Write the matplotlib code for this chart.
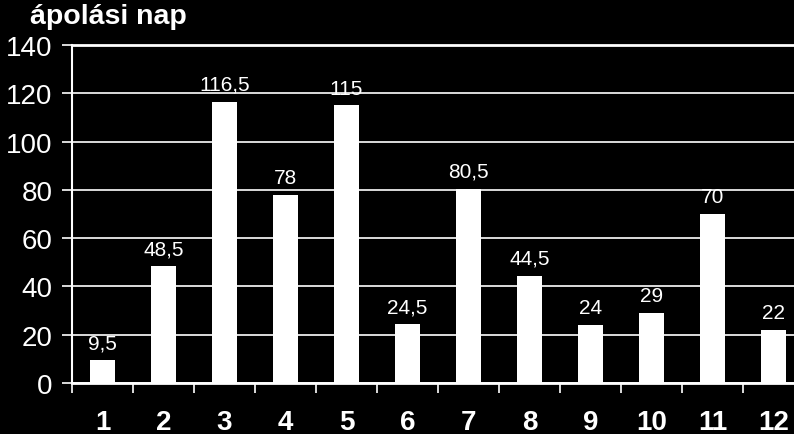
import matplotlib.pyplot as plt
from matplotlib.ticker import MultipleLocator

categories = ["1", "2", "3", "4", "5", "6", "7", "8", "9", "10", "11", "12"]
values = [9.5, 48.5, 116.5, 78, 115, 24.5, 80.5, 44.5, 24, 29, 70, 22]
value_labels = ["9,5", "48,5", "116,5", "78", "115", "24,5", "80,5", "44,5", "24", "29", "70", "22"]
title_text = "ápolási nap"

plt.rcParams["font.family"] = ["Liberation Sans", "DejaVu Sans"]

W, H = 794, 435
fig = plt.figure(figsize=(W / 100, H / 100), dpi=100, facecolor="black")
ax = fig.add_axes([72 / W, (H - 384) / H, 732 / W, 338 / H], facecolor="black")

x = list(range(1, len(categories) + 1))
ax.bar(x, values, width=0.4, color="white", zorder=3)

for xi, v, lab in zip(x, values, value_labels):
    ax.annotate(lab, (xi, v), xytext=(0, 8.5), textcoords="offset points",
                ha="center", va="baseline", color="white", fontsize=15, zorder=4)

ax.set_xlim(0.5, len(categories) + 0.5)
ax.set_ylim(0, 140)
ax.yaxis.set_major_locator(MultipleLocator(20))
ax.grid(axis="y", color="white", linewidth=1.2, zorder=1)

ax.set_xticks(x)
ax.set_xticklabels(categories, fontsize=20, fontweight="bold", color="white")
ax.set_xticks([i + 0.5 for i in range(0, len(categories) + 1)], minor=True)
ax.tick_params(axis="x", which="major", length=0, pad=19)
ax.tick_params(axis="x", which="minor", length=7, width=1.2, color="white", direction="out")
ax.tick_params(axis="y", length=7, width=1.2, color="white", labelcolor="white",
               labelsize=20, pad=7, direction="out")

for side in ["left", "bottom", "top"]:
    ax.spines[side].set_color("white")
ax.spines["left"].set_linewidth(1.5)
ax.spines["bottom"].set_linewidth(2)
ax.spines["top"].set_linewidth(2)
ax.spines["right"].set_visible(False)

fig.text(30 / W, (H - 24) / H, title_text, color="white", fontsize=20.5,
         fontweight="bold", ha="left", va="baseline")

fig.savefig("out.png", dpi=100, facecolor="black")
